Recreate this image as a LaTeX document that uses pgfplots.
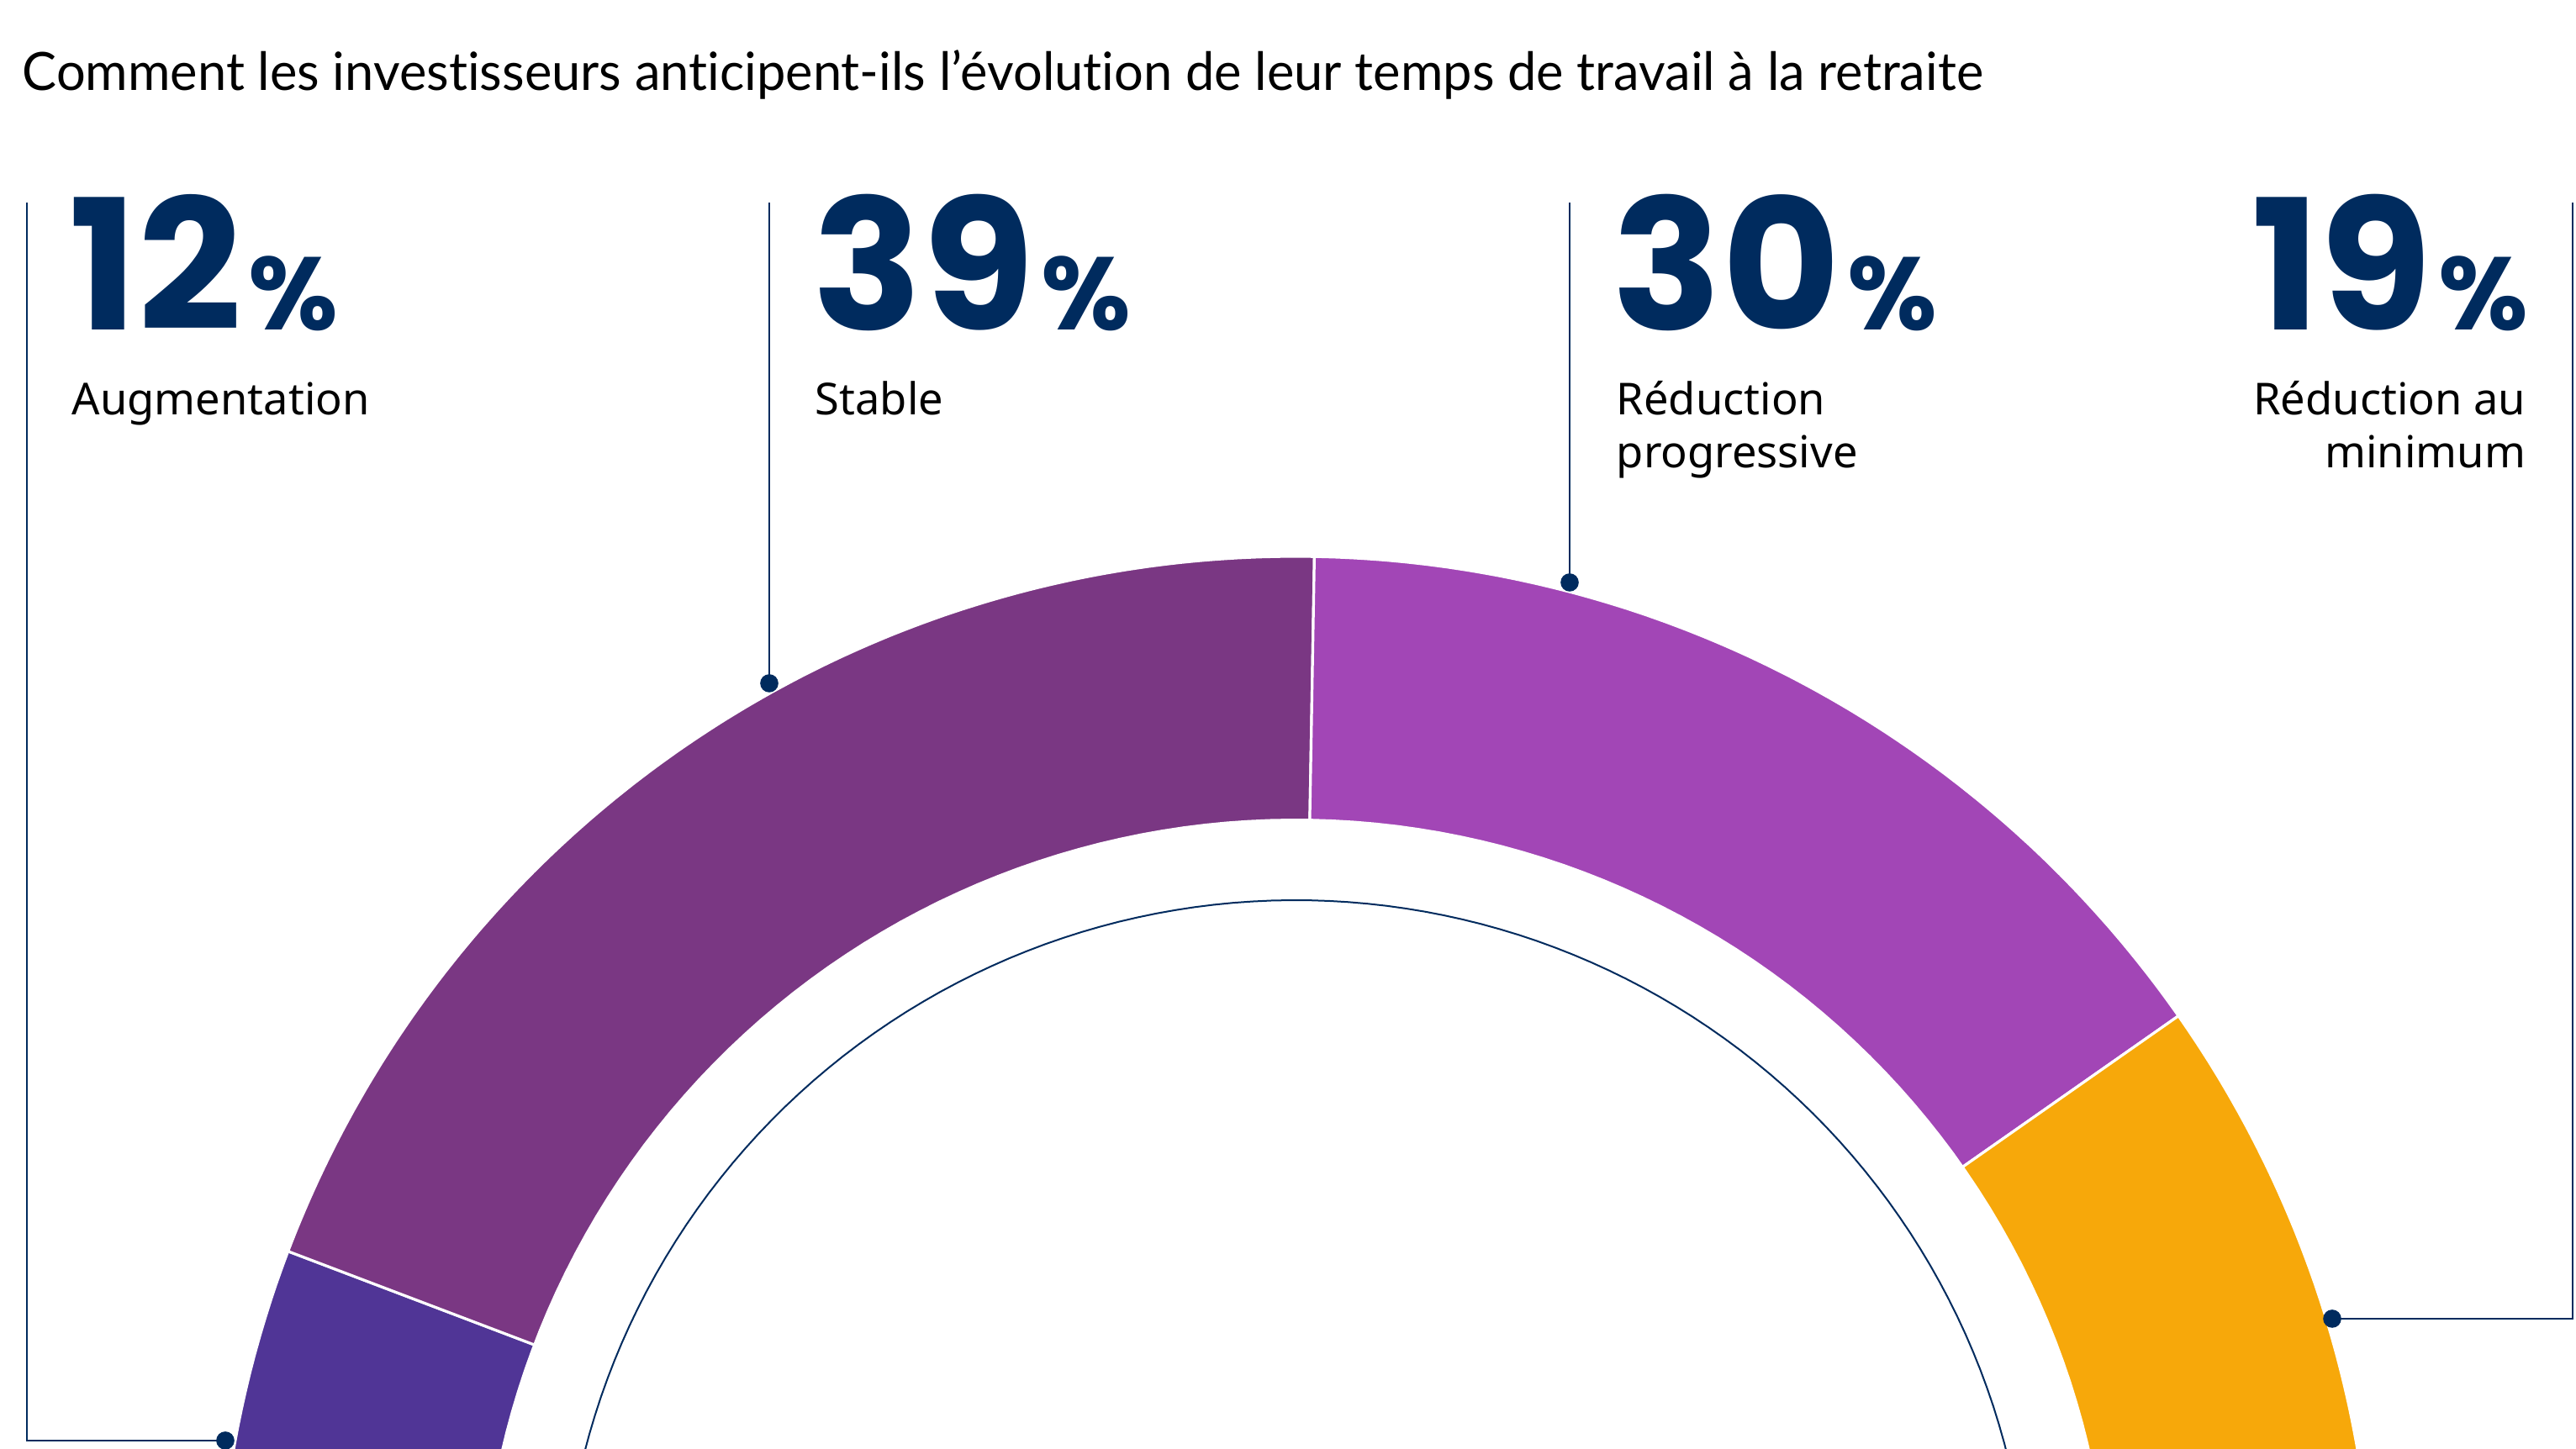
\documentclass[border=0pt]{standalone}
\usepackage{pgfplots}
\pgfplotsset{compat=1.18}
\usepackage{fontspec}
\setmainfont{Noto Sans}
\newfontfamily\titlefont[Ligatures=NoCommon, FakeStretch=0.977]{Lato}
\newfontfamily\numfont{Poppins}
\definecolor{cAug}{HTML}{503596}
\definecolor{cSta}{HTML}{7A3783}
\definecolor{cPro}{HTML}{A246B6}
\definecolor{cMin}{HTML}{F7A80A}
\definecolor{navy}{HTML}{002B5E}
\begin{document}
\begin{tikzpicture}
% shares (%)
\def\vA{12}\def\vB{39}\def\vC{30}\def\vD{19}
% geometry (pixel units of the picture)
\def\cx{1541}\def\cy{-220}\def\Ro{1282}\def\Ri{970}\def\Rc{873}
\pgfmathsetmacro\aA{180.8}
\pgfmathsetmacro\aB{\aA-1.8*\vA}
\pgfmathsetmacro\aC{\aB-1.8*\vB}
\pgfmathsetmacro\aD{\aC-1.8*\vC}
\pgfmathsetmacro\aE{\aD-1.8*\vD}
\begin{axis}[name=ax, at={(0,0)}, anchor=south west,
  x=0.25pt, y=0.25pt, xmin=0, xmax=3064, ymin=0, ymax=1724,
  hide axis, clip=true, enlargelimits=false]
% wedges
\addplot[fill=cAug, draw=white, line width=0.8pt, domain=\aB:\aA, samples=60, variable=\t]
  ({\cx+\Ro*cos(\t)},{\cy+\Ro*sin(\t)}) -- (axis cs:\cx,\cy) -- cycle;
\addplot[fill=cSta, draw=white, line width=0.8pt, domain=\aC:\aB, samples=120, variable=\t]
  ({\cx+\Ro*cos(\t)},{\cy+\Ro*sin(\t)}) -- (axis cs:\cx,\cy) -- cycle;
\addplot[fill=cPro, draw=white, line width=0.8pt, domain=\aD:\aC, samples=100, variable=\t]
  ({\cx+\Ro*cos(\t)},{\cy+\Ro*sin(\t)}) -- (axis cs:\cx,\cy) -- cycle;
\addplot[fill=cMin, draw=white, line width=0.8pt, domain=\aE:\aD, samples=80, variable=\t]
  ({\cx+\Ro*cos(\t)},{\cy+\Ro*sin(\t)}) -- (axis cs:\cx,\cy) -- cycle;
% hole
\addplot[fill=white, draw=none, domain=0:360, samples=240, variable=\t]
  ({\cx+\Ri*cos(\t)},{\cy+\Ri*sin(\t)}) -- cycle;
% thin inner circle
\addplot[draw=navy, line width=0.5pt, domain=0:360, samples=240, variable=\t]
  ({\cx+\Rc*cos(\t)},{\cy+\Rc*sin(\t)}) -- cycle;
% leader lines
\addplot[navy, line width=0.6pt] coordinates {(32,1483) (32,10) (268,10)};
\addplot[navy, line width=0.6pt] coordinates {(915,1483) (915,911)};
\addplot[navy, line width=0.6pt] coordinates {(1867,1483) (1867,1031)};
\addplot[navy, line width=0.6pt] coordinates {(3060,1483) (3060,155) (2774,155)};
\addplot[only marks, mark=*, mark size=2.5pt, navy] coordinates {(268,10) (915,911) (1867,1031) (2774,155)};
% title
\node[anchor=base west, inner sep=0, font=\titlefont\fontsize{15.7}{18}\selectfont] at (axis cs:26,1616)
  {Comment les investisseurs anticipent-ils l’évolution de leur temps de travail à la retraite};
% numbers
\node[anchor=base west, inner sep=0, text=navy] at (axis cs:82,1331)
  {\numfont\bfseries\fontsize{54}{54}\selectfont 12\fontsize{30.7}{30.7}\selectfont\hspace{2pt}\%};
\node[anchor=base west, inner sep=0, text=navy] at (axis cs:966,1331)
  {\numfont\bfseries\fontsize{54}{54}\selectfont 39\fontsize{30.7}{30.7}\selectfont\hspace{2pt}\%};
\node[anchor=base west, inner sep=0, text=navy] at (axis cs:1917,1331)
  {\numfont\bfseries\fontsize{54}{54}\selectfont 30\fontsize{30.7}{30.7}\selectfont\hspace{2pt}\%};
\node[anchor=base east, inner sep=0, text=navy] at (axis cs:3008,1331)
  {\numfont\bfseries\fontsize{54}{54}\selectfont 19\fontsize{30.7}{30.7}\selectfont\hspace{2pt}\%};
% labels
\tikzset{lab/.style={inner sep=0, font=\fontsize{13.1}{15.75}\selectfont}}
\node[lab, anchor=base west] at (axis cs:85,1230) {Augmentation};
\node[lab, anchor=base west] at (axis cs:969,1230) {Stable};
\node[lab, anchor=base west] at (axis cs:1922,1230) {Réduction};
\node[lab, anchor=base west] at (axis cs:1922,1167) {progressive};
\node[lab, anchor=base east] at (axis cs:3005,1230) {Réduction au};
\node[lab, anchor=base east] at (axis cs:3005,1167) {minimum};
\end{axis}
\pgfresetboundingbox
\path[use as bounding box] (ax.south west) rectangle (ax.north east);
\end{tikzpicture}
\end{document}
